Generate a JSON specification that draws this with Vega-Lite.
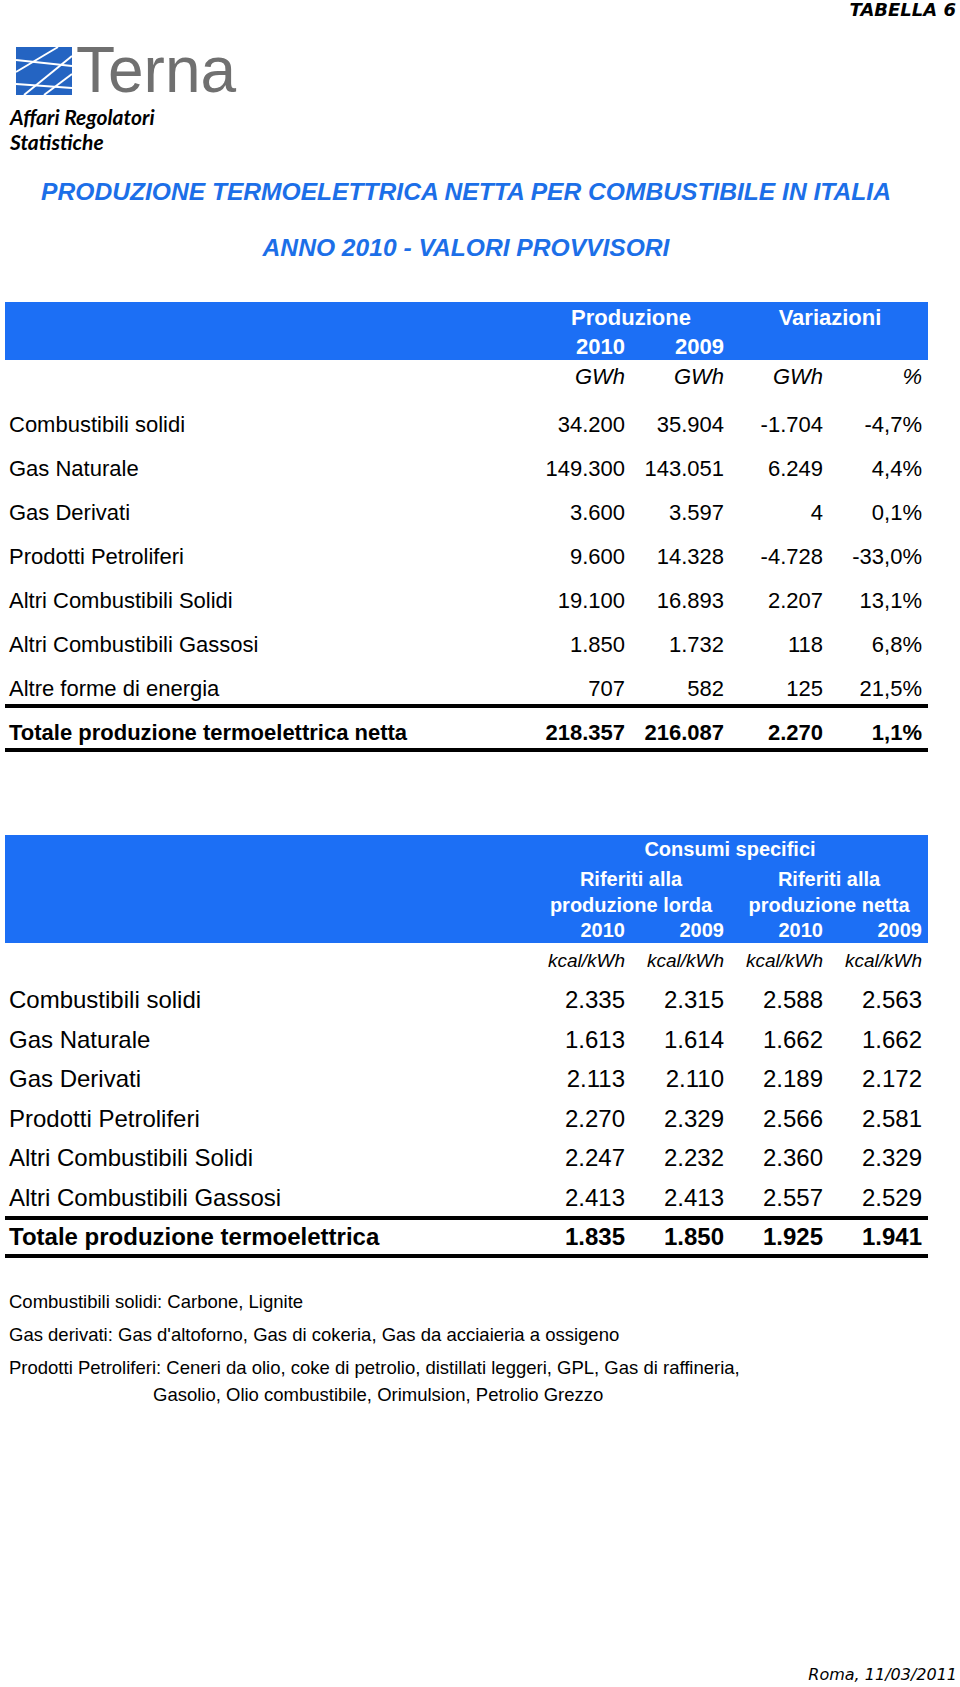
{
  "$schema": "https://vega.github.io/schema/vega-lite/v6.json",
  "width": 960,
  "height": 1687,
  "autosize": {"type": "fit", "contains": "padding"},
  "padding": 0,
  "background": "white",
  "config": {"view": {"stroke": null}, "axis": {"disable": true}, "text": {"font": "Liberation Sans"}},
  "data": {"values": [{}]},
  "datasets": {
    "prod": [
      {"fuel": "Combustibili solidi", "p2010": "34.200", "p2009": "35.904", "dv": "-1.704", "pct": "-4,7%"},
      {"fuel": "Gas Naturale", "p2010": "149.300", "p2009": "143.051", "dv": "6.249", "pct": "4,4%"},
      {"fuel": "Gas Derivati", "p2010": "3.600", "p2009": "3.597", "dv": "4", "pct": "0,1%"},
      {"fuel": "Prodotti Petroliferi", "p2010": "9.600", "p2009": "14.328", "dv": "-4.728", "pct": "-33,0%"},
      {"fuel": "Altri Combustibili Solidi", "p2010": "19.100", "p2009": "16.893", "dv": "2.207", "pct": "13,1%"},
      {"fuel": "Altri Combustibili Gassosi", "p2010": "1.850", "p2009": "1.732", "dv": "118", "pct": "6,8%"},
      {"fuel": "Altre forme di energia", "p2010": "707", "p2009": "582", "dv": "125", "pct": "21,5%"},
      {"fuel": "Totale produzione termoelettrica netta", "p2010": "218.357", "p2009": "216.087", "dv": "2.270", "pct": "1,1%"}
    ],
    "cons": [
      {"fuel": "Combustibili solidi", "c1": "2.335", "c2": "2.315", "c3": "2.588", "c4": "2.563"},
      {"fuel": "Gas Naturale", "c1": "1.613", "c2": "1.614", "c3": "1.662", "c4": "1.662"},
      {"fuel": "Gas Derivati", "c1": "2.113", "c2": "2.110", "c3": "2.189", "c4": "2.172"},
      {"fuel": "Prodotti Petroliferi", "c1": "2.270", "c2": "2.329", "c3": "2.566", "c4": "2.581"},
      {"fuel": "Altri Combustibili Solidi", "c1": "2.247", "c2": "2.232", "c3": "2.360", "c4": "2.329"},
      {"fuel": "Altri Combustibili Gassosi", "c1": "2.413", "c2": "2.413", "c3": "2.557", "c4": "2.529"},
      {"fuel": "Totale produzione termoelettrica", "c1": "1.835", "c2": "1.850", "c3": "1.925", "c4": "1.941"}
    ],
    "notes": [
      {"n": "a", "t": "Combustibili solidi: Carbone, Lignite"},
      {"n": "b", "t": "Gas derivati: Gas d'altoforno, Gas di cokeria, Gas da acciaieria a ossigeno"},
      {"n": "c", "t": "Prodotti Petroliferi: Ceneri da olio, coke di petrolio, distillati leggeri, GPL, Gas di raffineria,"}
    ]
  },
  "resolve": {"scale": {"x": "independent", "y": "independent"}},
  "layer": [
    {
      "mark": {"type": "text", "align": "right", "baseline": "middle", "fontSize": 18, "fontWeight": "bold", "fontStyle": "italic", "color": "black", "font": "DejaVu Sans"},
      "encoding": {
        "x": {"datum": 956, "type": "quantitative", "scale": {"domain": [0, 960], "range": [0, 960], "nice": false, "zero": false}},
        "y": {"datum": 11, "type": "quantitative", "scale": {"domain": [0, 1687], "range": [0, 1687], "nice": false, "zero": false}},
        "text": {"value": "TABELLA  6"}
      }
    },
    {
      "mark": {"type": "rect", "color": "#2464c2"},
      "encoding": {
        "x": {"datum": 16, "type": "quantitative", "scale": {"domain": [0, 960], "range": [0, 960], "nice": false, "zero": false}},
        "x2": {"datum": 72},
        "y": {"datum": 47, "type": "quantitative", "scale": {"domain": [0, 1687], "range": [0, 1687], "nice": false, "zero": false}},
        "y2": {"datum": 95}
      }
    },
    {
      "mark": {"type": "rule", "color": "white", "strokeWidth": 2},
      "encoding": {
        "x": {"datum": 16, "type": "quantitative", "scale": {"domain": [0, 960], "range": [0, 960], "nice": false, "zero": false}},
        "x2": {"datum": 58},
        "y": {"datum": 72, "type": "quantitative", "scale": {"domain": [0, 1687], "range": [0, 1687], "nice": false, "zero": false}},
        "y2": {"datum": 47}
      }
    },
    {
      "mark": {"type": "rule", "color": "white", "strokeWidth": 2},
      "encoding": {
        "x": {"datum": 24, "type": "quantitative", "scale": {"domain": [0, 960], "range": [0, 960], "nice": false, "zero": false}},
        "x2": {"datum": 72},
        "y": {"datum": 95, "type": "quantitative", "scale": {"domain": [0, 1687], "range": [0, 1687], "nice": false, "zero": false}},
        "y2": {"datum": 56}
      }
    },
    {
      "mark": {"type": "rule", "color": "white", "strokeWidth": 2},
      "encoding": {
        "x": {"datum": 44, "type": "quantitative", "scale": {"domain": [0, 960], "range": [0, 960], "nice": false, "zero": false}},
        "x2": {"datum": 72},
        "y": {"datum": 95, "type": "quantitative", "scale": {"domain": [0, 1687], "range": [0, 1687], "nice": false, "zero": false}},
        "y2": {"datum": 74}
      }
    },
    {
      "mark": {"type": "rule", "color": "white", "strokeWidth": 2},
      "encoding": {
        "x": {"datum": 16, "type": "quantitative", "scale": {"domain": [0, 960], "range": [0, 960], "nice": false, "zero": false}},
        "x2": {"datum": 72},
        "y": {"datum": 60, "type": "quantitative", "scale": {"domain": [0, 1687], "range": [0, 1687], "nice": false, "zero": false}},
        "y2": {"datum": 66}
      }
    },
    {
      "mark": {"type": "rule", "color": "white", "strokeWidth": 2},
      "encoding": {
        "x": {"datum": 16, "type": "quantitative", "scale": {"domain": [0, 960], "range": [0, 960], "nice": false, "zero": false}},
        "x2": {"datum": 72},
        "y": {"datum": 84, "type": "quantitative", "scale": {"domain": [0, 1687], "range": [0, 1687], "nice": false, "zero": false}},
        "y2": {"datum": 88}
      }
    },
    {
      "mark": {"type": "text", "align": "left", "baseline": "alphabetic", "fontSize": 64, "color": "#707070", "font": "Liberation Sans"},
      "encoding": {
        "x": {"datum": 76, "type": "quantitative", "scale": {"domain": [0, 960], "range": [0, 960], "nice": false, "zero": false}},
        "y": {"datum": 92, "type": "quantitative", "scale": {"domain": [0, 1687], "range": [0, 1687], "nice": false, "zero": false}},
        "text": {"value": "Terna"}
      }
    },
    {
      "data": {"values": [{"t": "Affari Regolatori"}, {"t": "Statistiche"}]},
      "mark": {"type": "text", "align": "left", "baseline": "middle", "fontSize": 21, "fontWeight": "bold", "fontStyle": "italic", "color": "black", "font": "Lato"},
      "encoding": {
        "x": {"datum": 10, "type": "quantitative", "scale": {"domain": [0, 960], "range": [0, 960], "nice": false, "zero": false}},
        "y": {"field": "t", "type": "nominal", "scale": {"type": "point", "domain": ["Affari Regolatori", "Statistiche"], "range": [119, 144], "padding": 0}},
        "text": {"field": "t"}
      }
    },
    {
      "data": {"values": [{"t": "PRODUZIONE TERMOELETTRICA NETTA PER COMBUSTIBILE IN ITALIA"}, {"t": "ANNO 2010 - VALORI PROVVISORI"}]},
      "mark": {"type": "text", "align": "center", "baseline": "middle", "fontSize": 24.6, "fontWeight": "bold", "fontStyle": "italic", "color": "#1c6fe8"},
      "encoding": {
        "x": {"datum": 466, "type": "quantitative", "scale": {"domain": [0, 960], "range": [0, 960], "nice": false, "zero": false}},
        "y": {"field": "t", "type": "nominal", "scale": {"type": "point", "domain": ["PRODUZIONE TERMOELETTRICA NETTA PER COMBUSTIBILE IN ITALIA", "ANNO 2010 - VALORI PROVVISORI"], "range": [193, 249], "padding": 0}},
        "text": {"field": "t"}
      }
    },
    {
      "mark": {"type": "rect", "color": "#1c6ff5"},
      "encoding": {
        "x": {"datum": 5, "type": "quantitative", "scale": {"domain": [0, 960], "range": [0, 960], "nice": false, "zero": false}},
        "x2": {"datum": 928},
        "y": {"datum": 302, "type": "quantitative", "scale": {"domain": [0, 1687], "range": [0, 1687], "nice": false, "zero": false}},
        "y2": {"datum": 360}
      }
    },
    {
      "data": {"values": [{"h": "Produzione"}, {"h": "Variazioni"}]},
      "mark": {"type": "text", "align": "center", "baseline": "middle", "fontSize": 22, "fontWeight": "bold", "color": "white"},
      "encoding": {
        "x": {"field": "h", "type": "nominal", "scale": {"type": "point", "domain": ["Produzione", "Variazioni"], "range": [631, 830], "padding": 0}},
        "y": {"datum": 318, "type": "quantitative", "scale": {"domain": [0, 1687], "range": [0, 1687], "nice": false, "zero": false}},
        "text": {"field": "h"}
      }
    },
    {
      "data": {"values": [{"col": "p2010", "t": "2010"}, {"col": "p2009", "t": "2009"}]},
      "mark": {"type": "text", "align": "right", "baseline": "middle", "fontSize": 22, "fontWeight": "bold", "color": "white"},
      "encoding": {
        "x": {"field": "col", "type": "nominal", "scale": {"type": "point", "domain": ["p2010", "p2009", "dv", "pct"], "range": [625, 922], "padding": 0}},
        "y": {"datum": 347, "type": "quantitative", "scale": {"domain": [0, 1687], "range": [0, 1687], "nice": false, "zero": false}},
        "text": {"field": "t"}
      }
    },
    {
      "data": {"values": [{"col": "p2010", "t": "GWh"}, {"col": "p2009", "t": "GWh"}, {"col": "dv", "t": "GWh"}, {"col": "pct", "t": "%"}]},
      "mark": {"type": "text", "align": "right", "baseline": "middle", "fontSize": 22, "fontStyle": "italic", "color": "black"},
      "encoding": {
        "x": {"field": "col", "type": "nominal", "scale": {"type": "point", "domain": ["p2010", "p2009", "dv", "pct"], "range": [625, 922], "padding": 0}},
        "y": {"datum": 377, "type": "quantitative", "scale": {"domain": [0, 1687], "range": [0, 1687], "nice": false, "zero": false}},
        "text": {"field": "t"}
      }
    },
    {
      "data": {"name": "prod"},
      "transform": [{"filter": {"not": {"field": "fuel", "equal": "Totale produzione termoelettrica netta"}}}],
      "mark": {"type": "text", "align": "left", "baseline": "middle", "fontSize": 22, "color": "black"},
      "encoding": {
        "x": {"datum": 9, "type": "quantitative", "scale": {"domain": [0, 960], "range": [0, 960], "nice": false, "zero": false}},
        "y": {"field": "fuel", "type": "nominal", "sort": null, "scale": {"type": "point", "domain": ["Combustibili solidi", "Gas Naturale", "Gas Derivati", "Prodotti Petroliferi", "Altri Combustibili Solidi", "Altri Combustibili Gassosi", "Altre forme di energia", "Totale produzione termoelettrica netta"], "range": [425, 733], "padding": 0}},
        "text": {"field": "fuel"}
      }
    },
    {
      "data": {"name": "prod"},
      "transform": [{"filter": {"not": {"field": "fuel", "equal": "Totale produzione termoelettrica netta"}}}, {"fold": ["p2010", "p2009", "dv", "pct"], "as": ["col", "val"]}],
      "mark": {"type": "text", "align": "right", "baseline": "middle", "fontSize": 22, "color": "black"},
      "encoding": {
        "x": {"field": "col", "type": "nominal", "scale": {"type": "point", "domain": ["p2010", "p2009", "dv", "pct"], "range": [625, 922], "padding": 0}},
        "y": {"field": "fuel", "type": "nominal", "sort": null, "scale": {"type": "point", "domain": ["Combustibili solidi", "Gas Naturale", "Gas Derivati", "Prodotti Petroliferi", "Altri Combustibili Solidi", "Altri Combustibili Gassosi", "Altre forme di energia", "Totale produzione termoelettrica netta"], "range": [425, 733], "padding": 0}},
        "text": {"field": "val"}
      }
    },
    {
      "data": {"name": "prod"},
      "transform": [{"filter": {"field": "fuel", "equal": "Totale produzione termoelettrica netta"}}],
      "mark": {"type": "text", "align": "left", "baseline": "middle", "fontSize": 22, "fontWeight": "bold", "color": "black"},
      "encoding": {
        "x": {"datum": 9, "type": "quantitative", "scale": {"domain": [0, 960], "range": [0, 960], "nice": false, "zero": false}},
        "y": {"field": "fuel", "type": "nominal", "sort": null, "scale": {"type": "point", "domain": ["Combustibili solidi", "Gas Naturale", "Gas Derivati", "Prodotti Petroliferi", "Altri Combustibili Solidi", "Altri Combustibili Gassosi", "Altre forme di energia", "Totale produzione termoelettrica netta"], "range": [425, 733], "padding": 0}},
        "text": {"field": "fuel"}
      }
    },
    {
      "data": {"name": "prod"},
      "transform": [{"filter": {"field": "fuel", "equal": "Totale produzione termoelettrica netta"}}, {"fold": ["p2010", "p2009", "dv", "pct"], "as": ["col", "val"]}],
      "mark": {"type": "text", "align": "right", "baseline": "middle", "fontSize": 22, "fontWeight": "bold", "color": "black"},
      "encoding": {
        "x": {"field": "col", "type": "nominal", "scale": {"type": "point", "domain": ["p2010", "p2009", "dv", "pct"], "range": [625, 922], "padding": 0}},
        "y": {"field": "fuel", "type": "nominal", "sort": null, "scale": {"type": "point", "domain": ["Combustibili solidi", "Gas Naturale", "Gas Derivati", "Prodotti Petroliferi", "Altri Combustibili Solidi", "Altri Combustibili Gassosi", "Altre forme di energia", "Totale produzione termoelettrica netta"], "range": [425, 733], "padding": 0}},
        "text": {"field": "val"}
      }
    },
    {
      "data": {"values": [{"l": "a"}, {"l": "b"}]},
      "mark": {"type": "rule", "color": "black", "strokeWidth": 4},
      "encoding": {
        "x": {"datum": 5, "type": "quantitative", "scale": {"domain": [0, 960], "range": [0, 960], "nice": false, "zero": false}},
        "x2": {"datum": 928},
        "y": {"field": "l", "type": "nominal", "scale": {"type": "point", "domain": ["a", "b"], "range": [706, 750], "padding": 0}}
      }
    },
    {
      "mark": {"type": "rect", "color": "#1c6ff5"},
      "encoding": {
        "x": {"datum": 5, "type": "quantitative", "scale": {"domain": [0, 960], "range": [0, 960], "nice": false, "zero": false}},
        "x2": {"datum": 928},
        "y": {"datum": 835, "type": "quantitative", "scale": {"domain": [0, 1687], "range": [0, 1687], "nice": false, "zero": false}},
        "y2": {"datum": 943}
      }
    },
    {
      "mark": {"type": "text", "align": "center", "baseline": "middle", "fontSize": 20, "fontWeight": "bold", "color": "white"},
      "encoding": {
        "x": {"datum": 730, "type": "quantitative", "scale": {"domain": [0, 960], "range": [0, 960], "nice": false, "zero": false}},
        "y": {"datum": 850, "type": "quantitative", "scale": {"domain": [0, 1687], "range": [0, 1687], "nice": false, "zero": false}},
        "text": {"value": "Consumi specifici"}
      }
    },
    {
      "data": {"values": [{"g": "lorda", "t": "Riferiti alla"}, {"g": "netta", "t": "Riferiti alla"}]},
      "mark": {"type": "text", "align": "center", "baseline": "middle", "fontSize": 20, "fontWeight": "bold", "color": "white"},
      "encoding": {
        "x": {"field": "g", "type": "nominal", "scale": {"type": "point", "domain": ["lorda", "netta"], "range": [631, 829], "padding": 0}},
        "y": {"datum": 880, "type": "quantitative", "scale": {"domain": [0, 1687], "range": [0, 1687], "nice": false, "zero": false}},
        "text": {"field": "t"}
      }
    },
    {
      "data": {"values": [{"g": "lorda", "t": "produzione lorda"}, {"g": "netta", "t": "produzione netta"}]},
      "mark": {"type": "text", "align": "center", "baseline": "middle", "fontSize": 20, "fontWeight": "bold", "color": "white"},
      "encoding": {
        "x": {"field": "g", "type": "nominal", "scale": {"type": "point", "domain": ["lorda", "netta"], "range": [631, 829], "padding": 0}},
        "y": {"datum": 906, "type": "quantitative", "scale": {"domain": [0, 1687], "range": [0, 1687], "nice": false, "zero": false}},
        "text": {"field": "t"}
      }
    },
    {
      "data": {"values": [{"col": "c1", "t": "2010"}, {"col": "c2", "t": "2009"}, {"col": "c3", "t": "2010"}, {"col": "c4", "t": "2009"}]},
      "mark": {"type": "text", "align": "right", "baseline": "middle", "fontSize": 20, "fontWeight": "bold", "color": "white"},
      "encoding": {
        "x": {"field": "col", "type": "nominal", "scale": {"type": "point", "domain": ["c1", "c2", "c3", "c4"], "range": [625, 922], "padding": 0}},
        "y": {"datum": 931, "type": "quantitative", "scale": {"domain": [0, 1687], "range": [0, 1687], "nice": false, "zero": false}},
        "text": {"field": "t"}
      }
    },
    {
      "data": {"values": [{"col": "c1", "t": "kcal/kWh"}, {"col": "c2", "t": "kcal/kWh"}, {"col": "c3", "t": "kcal/kWh"}, {"col": "c4", "t": "kcal/kWh"}]},
      "mark": {"type": "text", "align": "right", "baseline": "middle", "fontSize": 19, "fontStyle": "italic", "color": "black"},
      "encoding": {
        "x": {"field": "col", "type": "nominal", "scale": {"type": "point", "domain": ["c1", "c2", "c3", "c4"], "range": [625, 922], "padding": 0}},
        "y": {"datum": 961, "type": "quantitative", "scale": {"domain": [0, 1687], "range": [0, 1687], "nice": false, "zero": false}},
        "text": {"field": "t"}
      }
    },
    {
      "data": {"name": "cons"},
      "transform": [{"filter": {"not": {"field": "fuel", "equal": "Totale produzione termoelettrica"}}}],
      "mark": {"type": "text", "align": "left", "baseline": "middle", "fontSize": 24, "color": "black"},
      "encoding": {
        "x": {"datum": 9, "type": "quantitative", "scale": {"domain": [0, 960], "range": [0, 960], "nice": false, "zero": false}},
        "y": {"field": "fuel", "type": "nominal", "sort": null, "scale": {"type": "point", "domain": ["Combustibili solidi", "Gas Naturale", "Gas Derivati", "Prodotti Petroliferi", "Altri Combustibili Solidi", "Altri Combustibili Gassosi", "Totale produzione termoelettrica"], "range": [1001, 1238], "padding": 0}},
        "text": {"field": "fuel"}
      }
    },
    {
      "data": {"name": "cons"},
      "transform": [{"filter": {"not": {"field": "fuel", "equal": "Totale produzione termoelettrica"}}}, {"fold": ["c1", "c2", "c3", "c4"], "as": ["col", "val"]}],
      "mark": {"type": "text", "align": "right", "baseline": "middle", "fontSize": 24, "color": "black"},
      "encoding": {
        "x": {"field": "col", "type": "nominal", "scale": {"type": "point", "domain": ["c1", "c2", "c3", "c4"], "range": [625, 922], "padding": 0}},
        "y": {"field": "fuel", "type": "nominal", "sort": null, "scale": {"type": "point", "domain": ["Combustibili solidi", "Gas Naturale", "Gas Derivati", "Prodotti Petroliferi", "Altri Combustibili Solidi", "Altri Combustibili Gassosi", "Totale produzione termoelettrica"], "range": [1001, 1238], "padding": 0}},
        "text": {"field": "val"}
      }
    },
    {
      "data": {"name": "cons"},
      "transform": [{"filter": {"field": "fuel", "equal": "Totale produzione termoelettrica"}}],
      "mark": {"type": "text", "align": "left", "baseline": "middle", "fontSize": 24, "fontWeight": "bold", "color": "black"},
      "encoding": {
        "x": {"datum": 9, "type": "quantitative", "scale": {"domain": [0, 960], "range": [0, 960], "nice": false, "zero": false}},
        "y": {"field": "fuel", "type": "nominal", "sort": null, "scale": {"type": "point", "domain": ["Combustibili solidi", "Gas Naturale", "Gas Derivati", "Prodotti Petroliferi", "Altri Combustibili Solidi", "Altri Combustibili Gassosi", "Totale produzione termoelettrica"], "range": [1001, 1238], "padding": 0}},
        "text": {"field": "fuel"}
      }
    },
    {
      "data": {"name": "cons"},
      "transform": [{"filter": {"field": "fuel", "equal": "Totale produzione termoelettrica"}}, {"fold": ["c1", "c2", "c3", "c4"], "as": ["col", "val"]}],
      "mark": {"type": "text", "align": "right", "baseline": "middle", "fontSize": 24, "fontWeight": "bold", "color": "black"},
      "encoding": {
        "x": {"field": "col", "type": "nominal", "scale": {"type": "point", "domain": ["c1", "c2", "c3", "c4"], "range": [625, 922], "padding": 0}},
        "y": {"field": "fuel", "type": "nominal", "sort": null, "scale": {"type": "point", "domain": ["Combustibili solidi", "Gas Naturale", "Gas Derivati", "Prodotti Petroliferi", "Altri Combustibili Solidi", "Altri Combustibili Gassosi", "Totale produzione termoelettrica"], "range": [1001, 1238], "padding": 0}},
        "text": {"field": "val"}
      }
    },
    {
      "data": {"values": [{"l": "a"}, {"l": "b"}]},
      "mark": {"type": "rule", "color": "black", "strokeWidth": 4},
      "encoding": {
        "x": {"datum": 5, "type": "quantitative", "scale": {"domain": [0, 960], "range": [0, 960], "nice": false, "zero": false}},
        "x2": {"datum": 928},
        "y": {"field": "l", "type": "nominal", "scale": {"type": "point", "domain": ["a", "b"], "range": [1218, 1256], "padding": 0}}
      }
    },
    {
      "data": {"name": "notes"},
      "mark": {"type": "text", "align": "left", "baseline": "middle", "fontSize": 18.5, "color": "black"},
      "encoding": {
        "x": {"datum": 9, "type": "quantitative", "scale": {"domain": [0, 960], "range": [0, 960], "nice": false, "zero": false}},
        "y": {"field": "n", "type": "nominal", "scale": {"type": "point", "domain": ["a", "b", "c"], "range": [1302, 1368], "padding": 0}},
        "text": {"field": "t"}
      }
    },
    {
      "mark": {"type": "text", "align": "left", "baseline": "middle", "fontSize": 18.5, "color": "black"},
      "encoding": {
        "x": {"datum": 153, "type": "quantitative", "scale": {"domain": [0, 960], "range": [0, 960], "nice": false, "zero": false}},
        "y": {"datum": 1395, "type": "quantitative", "scale": {"domain": [0, 1687], "range": [0, 1687], "nice": false, "zero": false}},
        "text": {"value": "Gasolio, Olio combustibile, Orimulsion, Petrolio Grezzo"}
      }
    },
    {
      "mark": {"type": "text", "align": "right", "baseline": "middle", "fontSize": 16, "fontStyle": "italic", "color": "black", "font": "DejaVu Sans"},
      "encoding": {
        "x": {"datum": 957, "type": "quantitative", "scale": {"domain": [0, 960], "range": [0, 960], "nice": false, "zero": false}},
        "y": {"datum": 1675, "type": "quantitative", "scale": {"domain": [0, 1687], "range": [0, 1687], "nice": false, "zero": false}},
        "text": {"value": "Roma, 11/03/2011"}
      }
    }
  ]
}
